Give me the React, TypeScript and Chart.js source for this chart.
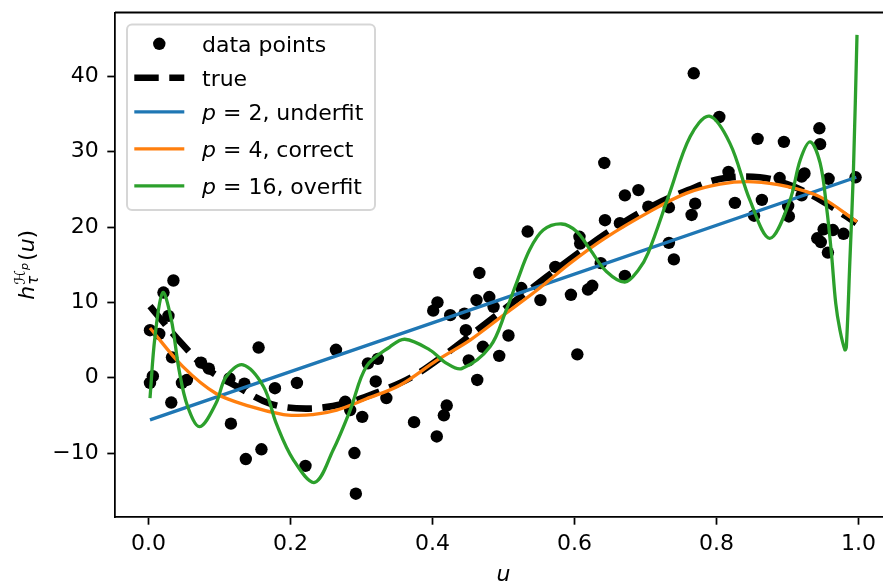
import { useEffect, useRef } from "react";
import { Chart, registerables } from "chart.js";

Chart.register(...registerables);

// Noisy samples (u, h)
const pointU = [
  0.002, 0.015, 0.021, 0.028, 0.035, 0.033, 0.006, 0.002, 0.054, 0.047,
  0.032, 0.074, 0.085, 0.155, 0.116, 0.114, 0.135, 0.159, 0.137, 0.178,
  0.209, 0.221, 0.264, 0.309, 0.323, 0.320, 0.335, 0.277, 0.284, 0.301,
  0.290, 0.292, 0.374, 0.420, 0.416, 0.406, 0.407, 0.401, 0.425, 0.445,
  0.462, 0.480, 0.486, 0.466, 0.447, 0.471, 0.451, 0.494, 0.463, 0.507,
  0.525, 0.534, 0.552, 0.573, 0.595, 0.604, 0.607, 0.608, 0.619, 0.625,
  0.637, 0.643, 0.664, 0.671, 0.671, 0.690, 0.704, 0.733, 0.733, 0.740,
  0.765, 0.770, 0.768, 0.804, 0.817, 0.826, 0.853, 0.858, 0.864, 0.889,
  0.895, 0.901, 0.902, 0.920, 0.920, 0.924, 0.945, 0.946, 0.958, 0.942,
  0.947, 0.951, 0.964, 0.979, 0.957, 0.996, 0.642,
];
const pointH = [
  6.3, 5.8, 11.3, 8.2, 12.9, 2.7, 0.2, -0.7, -0.3, -0.7,
  -3.3, 2.0, 1.2, 4.0, -6.1, -0.1, -0.8, -9.5, -10.8, -1.4,
  -0.7, -11.7, 3.7, 1.9, 2.5, -0.5, -2.7, -3.2, -4.3, -5.2,
  -10.0, -15.4, -5.9, -3.7, -5.0, -7.8, 10.0, 8.9, 8.3, 8.5,
  10.3, 10.7, 9.4, 13.9, 6.3, 4.1, 2.3, 2.9, -0.3, 5.6,
  11.9, 19.4, 10.3, 14.7, 11.0, 3.1, 18.7, 17.8, 11.7, 12.2,
  15.2, 20.9, 20.5, 13.5, 24.2, 24.9, 22.7, 22.6, 17.9, 15.7,
  21.6, 23.1, 40.4, 34.6, 27.3, 23.2, 21.5, 31.7, 23.6, 26.5,
  31.3, 22.8, 21.4, 24.2, 26.7, 27.1, 33.1, 31.0, 26.4, 18.5,
  18.0, 19.7, 19.6, 19.1, 16.6, 26.6, 28.5,
];

// Underlying function
const trueU = [
  0.002, 0.008, 0.046, 0.082, 0.125, 0.173, 0.225, 0.277, 0.326, 0.371,
  0.415, 0.457, 0.497, 0.540, 0.582, 0.624, 0.667, 0.712, 0.760, 0.806,
  0.861, 0.908, 0.955, 0.997,
];
const trueH = [
  9.5, 8.8, 4.6, 1.2, -1.2, -3.5, -4.1, -3.4, -1.8, 0.1,
  2.9, 5.9, 8.8, 11.9, 14.9, 17.8, 20.5, 22.9, 24.9, 26.4,
  26.6, 25.4, 23.1, 20.5,
];

// p = 2 fit
const fit2U = [0.002, 0.997];
const fit2H = [-5.6, 26.6];

// p = 4 fit
const fit4U = [
  0.002, 0.048, 0.095, 0.143, 0.190, 0.210, 0.230, 0.265, 0.307, 0.354,
  0.406, 0.453, 0.500, 0.547, 0.594, 0.641, 0.711, 0.758, 0.805, 0.852,
  0.899, 0.946, 0.998,
];
const fit4H = [
  6.6, 1.5, -2.1, -3.8, -4.9, -5.0, -4.9, -4.3, -2.8, -1.0,
  2.3, 5.0, 8.3, 11.6, 15.2, 18.4, 22.3, 24.5, 25.7, 26.0,
  25.4, 24.0, 20.7,
];

// p = 16 fit
const fit16U = [
  0.002, 0.009, 0.020, 0.032, 0.043, 0.055, 0.072, 0.095, 0.109, 0.133,
  0.162, 0.180, 0.204, 0.234, 0.260, 0.284, 0.307, 0.340, 0.361, 0.396,
  0.420, 0.441, 0.481, 0.504, 0.518, 0.537, 0.556, 0.582, 0.603, 0.622,
  0.645, 0.671, 0.690, 0.704, 0.734, 0.763, 0.790, 0.819, 0.847, 0.875,
  0.903, 0.918, 0.932, 0.946, 0.955, 0.962, 0.968, 0.974, 0.981, 0.983,
  0.988, 0.993, 0.998,
];
const fit16H = [
  -2.7, 5.4, 11.3, 7.7, 1.0, -3.8, -6.5, -3.4, 0.1, 1.7,
  -1.2, -6.1, -10.9, -13.9, -9.6, -4.3, 1.5, 4.1, 5.1, 3.7,
  1.9, 1.2, 4.1, 9.0, 12.5, 17.0, 19.6, 20.4, 19.4, 17.0,
  14.1, 12.7, 14.3, 16.6, 24.5, 32.0, 34.7, 31.1, 23.6, 18.5,
  23.4, 28.9, 31.3, 28.5, 22.7, 16.5, 9.9, 6.3, 3.7, 4.1,
  15.6, 27.6, 45.5,
];

const xTicksStep = 0.2;
const yTicksStep = 10;
const X_MIN = -0.0473;
const X_MAX = 1.0473;
const Y_MIN = -18.49;
const Y_MAX = 48.47;

const FAM = "'DejaVu Sans', sans-serif";
const PT = 2.2; // pixels per point

const pairs = (xs: number[], ys: number[]) => xs.map((x, i) => ({ x, y: ys[i] }));

// Frame, axis titles and legend box
const decorPlugin = {
  id: "decor",
  afterDraw(chart: any) {
    const ctx = chart.ctx as CanvasRenderingContext2D;
    const { left, right, top, bottom } = chart.chartArea;
    ctx.save();

    // top and right spines
    ctx.strokeStyle = "#000";
    ctx.lineWidth = 0.8 * PT;
    ctx.beginPath();
    ctx.moveTo(left, top);
    ctx.lineTo(right, top);
    ctx.lineTo(right, bottom);
    ctx.stroke();

    // x title
    ctx.fillStyle = "#000";
    ctx.textAlign = "center";
    ctx.textBaseline = "alphabetic";
    ctx.font = `italic 22px ${FAM}`;
    ctx.fillText("u", (left + right) / 2, 581);

    // y title: h_τ^{ℋ_p}(u)
    ctx.save();
    ctx.translate(33.5, (top + bottom) / 2);
    ctx.rotate(-Math.PI / 2);
    ctx.textAlign = "left";
    ctx.font = `italic 22px ${FAM}`;
    const wh = ctx.measureText("h").width;
    ctx.font = `italic 15px ${FAM}`;
    const wtau = ctx.measureText("τ").width;
    ctx.font = `15px ${FAM}`;
    const wH = ctx.measureText("ℋ").width;
    ctx.font = `italic 11px ${FAM}`;
    const wp = ctx.measureText("p").width;
    ctx.font = `22px ${FAM}`;
    const wl = ctx.measureText("(").width;
    const wr = ctx.measureText(")").width;
    ctx.font = `italic 22px ${FAM}`;
    const wu = ctx.measureText("u").width;
    const wsup = Math.max(wtau, wH + wp);
    const total = wh + 1 + wsup + 2 + wl + wu + wr;
    let x = -total / 2;
    ctx.font = `italic 22px ${FAM}`;
    ctx.fillText("h", x, 0);
    x += wh + 1;
    ctx.font = `italic 15px ${FAM}`;
    ctx.fillText("τ", x, 4);
    ctx.font = `15px ${FAM}`;
    ctx.fillText("ℋ", x, -8.5);
    ctx.font = `italic 11px ${FAM}`;
    ctx.fillText("p", x + wH, -5.5);
    x += wsup + 2;
    ctx.font = `22px ${FAM}`;
    ctx.fillText("(", x, 0);
    x += wl;
    ctx.font = `italic 22px ${FAM}`;
    ctx.fillText("u", x, 0);
    x += wu;
    ctx.font = `22px ${FAM}`;
    ctx.fillText(")", x, 0);
    ctx.restore();

    // legend
    const bx = 127, by = 24.5, bw = 248, bh = 185.5;
    ctx.beginPath();
    ctx.roundRect(bx, by, bw, bh, 5);
    ctx.fillStyle = "rgba(255,255,255,0.8)";
    ctx.fill();
    ctx.strokeStyle = "rgba(204,204,204,0.8)";
    ctx.lineWidth = 2;
    ctx.stroke();

    const baselines = [51.5, 85.5, 119.5, 156.5, 193.5];
    const hx0 = 134.3, hx1 = 184.3, tx = 202;
    chart.data.datasets.forEach((ds: any, i: number) => {
      const bl = baselines[i];
      const cy = bl - 7.7;
      if (!ds.showLine) {
        ctx.beginPath();
        ctx.arc((hx0 + hx1) / 2, cy, ds.pointRadius, 0, Math.PI * 2);
        ctx.fillStyle = ds.backgroundColor;
        ctx.fill();
      } else {
        ctx.beginPath();
        ctx.setLineDash(ds.borderDash || []);
        ctx.strokeStyle = ds.borderColor;
        ctx.lineWidth = ds.borderWidth;
        ctx.lineCap = "butt";
        ctx.moveTo(hx0, cy);
        ctx.lineTo(hx1, cy);
        ctx.stroke();
        ctx.setLineDash([]);
      }
      ctx.fillStyle = "#000";
      ctx.textAlign = "left";
      const label: string = ds.label;
      if (label.startsWith("p ")) {
        ctx.font = `italic 22px ${FAM}`;
        ctx.fillText("p", tx, bl);
        const w = ctx.measureText("p").width;
        ctx.font = `22px ${FAM}`;
        ctx.fillText(label.slice(1), tx + w, bl);
      } else {
        ctx.font = `22px ${FAM}`;
        ctx.fillText(label, tx, bl);
      }
    });
    ctx.restore();
  },
};

export default function App() {
  const ref = useRef<HTMLCanvasElement>(null);

  useEffect(() => {
    document.body.style.margin = "0";
    const canvas = ref.current!;
    const tickFont = { family: FAM, size: 22 };
    const lineDs = (label: string, xs: number[], ys: number[], color: string, order: number) => ({
      label,
      data: pairs(xs, ys),
      showLine: true,
      borderColor: color,
      backgroundColor: color,
      borderWidth: 1.5 * PT,
      pointRadius: 0,
      pointHoverRadius: 0,
      tension: 0.35,
      fill: false,
      order,
    });

    const chart = new Chart(canvas, {
      type: "scatter",
      data: {
        datasets: [
          {
            label: "data points",
            data: pairs(pointU, pointH),
            showLine: false,
            pointRadius: 6.2,
            pointHoverRadius: 6.2,
            pointBorderWidth: 0,
            backgroundColor: "#000",
            borderColor: "#000",
            order: 5,
          },
          {
            ...lineDs("true", trueU, trueH, "#000", 4),
            borderWidth: 3 * PT,
            borderDash: [3.7 * 3 * PT, 1.6 * 3 * PT],
          },
          lineDs("p = 2, underfit", fit2U, fit2H, "#1f77b4", 3),
          lineDs("p = 4, correct", fit4U, fit4H, "#ff7f0e", 2),
          lineDs("p = 16, overfit", fit16U, fit16H, "#2ca02c", 1),
        ] as any,
      },
      options: {
        responsive: false,
        animation: false,
        devicePixelRatio: 1,
        events: [],
        layout: { padding: { top: 12.5, right: 8, bottom: 0, left: 0 } },
        plugins: {
          legend: { display: false },
          tooltip: { enabled: false },
        },
        scales: {
          x: {
            type: "linear",
            min: X_MIN,
            max: X_MAX,
            ticks: {
              stepSize: xTicksStep,
              includeBounds: false,
              autoSkip: false,
              maxRotation: 0,
              font: tickFont,
              color: "#000",
              padding: 6,
              callback: (v: any) => Number(v).toFixed(1),
            },
            grid: {
              drawOnChartArea: false,
              drawTicks: true,
              tickLength: 7.7,
              tickWidth: 0.8 * PT,
              color: "#000",
            },
            border: { color: "#000", width: 0.8 * PT },
            afterFit: (s: any) => {
              s.height = 65;
              s.paddingLeft = 0;
              s.paddingRight = 0;
            },
          },
          y: {
            type: "linear",
            min: Y_MIN,
            max: Y_MAX,
            ticks: {
              stepSize: yTicksStep,
              includeBounds: false,
              autoSkip: false,
              font: tickFont,
              color: "#000",
              padding: 8.5,
              callback: (v: any) => (Number(v) < 0 ? "\u2212" + Math.abs(Number(v)) : String(v)),
            },
            grid: {
              drawOnChartArea: false,
              drawTicks: true,
              tickLength: 7.7,
              tickWidth: 0.8 * PT,
              color: "#000",
            },
            border: { color: "#000", width: 0.8 * PT },
            afterFit: (s: any) => {
              s.width = 115;
              s.paddingTop = 0;
              s.paddingBottom = 0;
            },
          },
        },
      } as any,
      plugins: [decorPlugin],
    });
    return () => chart.destroy();
  }, []);

  return (
    <div
      style={{
        position: "fixed",
        left: 0,
        top: 0,
        width: 883,
        height: 582,
        overflow: "hidden",
        background: "#fff",
      }}
    >
      <canvas ref={ref} width={900} height={582} style={{ display: "block", width: 900, height: 582 }} />
    </div>
  );
}
